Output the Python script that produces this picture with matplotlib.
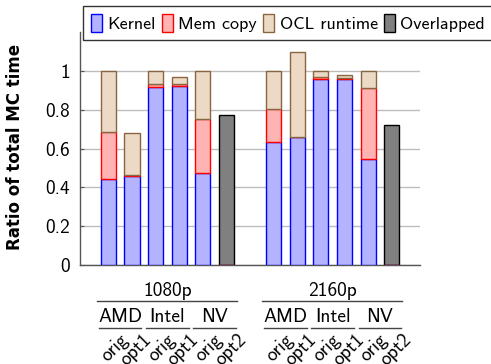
import matplotlib
matplotlib.use("Agg")
import matplotlib.pyplot as plt
import matplotlib.transforms as mtransforms
from matplotlib.patches import Patch
from matplotlib.lines import Line2D

plt.rcParams['font.family'] = ['cmss10', 'DejaVu Sans']
plt.rcParams['font.size'] = 14
plt.rcParams['axes.unicode_minus'] = False

# data
positions = [0, 1, 2, 3, 4, 5, 7, 8, 9, 10, 11, 12]
kernel = [0.443, 0.460, 0.918, 0.924, 0.476, 0.0, 0.632, 0.658, 0.959, 0.959, 0.545, 0.0]
memcopy = [0.244, 0.003, 0.013, 0.007, 0.278, 0.0, 0.170, 0.0, 0.007, 0.003, 0.366, 0.0]
ocl = [0.313, 0.219, 0.069, 0.035, 0.246, 0.0, 0.198, 0.440, 0.034, 0.016, 0.089, 0.0]
overlapped = [0, 0, 0, 0, 0, 0.772, 0, 0, 0, 0, 0, 0.722]

resolutions = ['1080p', '2160p']
vendors = ['AMD', 'Intel', 'NV']
variants = ['orig', 'opt1', 'orig', 'opt1', 'orig', 'opt2']

kernel_fc, kernel_ec = '#b3b3ff', '#0000ff'
mem_fc, mem_ec = '#ffb3b3', '#ff0000'
ocl_fc, ocl_ec = '#ecd9c6', '#8a6640'
ovl_fc, ovl_ec = '#808080', '#000000'

W, H = 491, 364
fig = plt.figure(figsize=(W / 100, H / 100), dpi=100)
ax = fig.add_axes([80 / W, 1 - 265 / H, 340 / W, 233 / H])

bw = 0.64
mem_bottom = [k for k in kernel]
ocl_bottom = [k + m for k, m in zip(kernel, memcopy)]

ax.bar(positions, overlapped, bw, color=ovl_fc, edgecolor=ovl_ec, linewidth=1.0, zorder=3)
ax.bar(positions, kernel, bw, color=kernel_fc, edgecolor=kernel_ec, linewidth=1.0, zorder=3)
ax.bar(positions, memcopy, bw, bottom=mem_bottom, color=mem_fc, edgecolor=mem_ec, linewidth=1.0, zorder=3)
ax.bar(positions, ocl, bw, bottom=ocl_bottom, color=ocl_fc, edgecolor=ocl_ec, linewidth=1.0, zorder=3)

ax.set_xlim(-1.2, 13.2)
ax.set_ylim(0, 1.2)
ax.set_yticks([0, 0.2, 0.4, 0.6, 0.8, 1.0])
ax.set_yticklabels(['0', '0.2', '0.4', '0.6', '0.8', '1'])
ax.set_xticks([])
ax.tick_params(axis='y', length=3, direction='in', color='#555555', pad=7)
ax.yaxis.grid(True, color='#bdbdbd', linewidth=1.0, zorder=0)
ax.set_axisbelow(True)
for s in ['top', 'right']:
    ax.spines[s].set_visible(False)
for s in ['left', 'bottom']:
    ax.spines[s].set_color('#555555')
    ax.spines[s].set_linewidth(1.0)

fig.text(15 / W, 1 - 146.5 / H, 'Ratio of total MC time', rotation=90,
         ha='center', va='center', fontsize=12, fontweight='bold', family='DejaVu Sans')

# hierarchical x labels below the axes
tr = mtransforms.blended_transform_factory(ax.transData, fig.transFigure)

def fy(py):
    return 1 - py / H

for gi, res in enumerate(resolutions):
    base = gi * 7
    ax.text(base + 2.5, fy(291.5), res, transform=tr, ha='center', va='center')
    fig.add_artist(Line2D([base - 0.5, base + 5.45], [fy(301), fy(301)], transform=tr,
                          color='#444444', linewidth=1.0))
    for vi, vend in enumerate(vendors):
        c = base + 2 * vi + 0.5
        ax.text(c, fy(317), vend, transform=tr, ha='center', va='center')
        fig.add_artist(Line2D([c - 0.9, c + 0.9], [fy(327.5), fy(327.5)], transform=tr,
                              color='#444444', linewidth=1.0))
    for k, lab in enumerate(variants):
        ax.text(base + k + 0.45, fy(331), lab, transform=tr, rotation=45,
                ha='right', va='top', rotation_mode='anchor')

handles = [
    Patch(facecolor=kernel_fc, edgecolor=kernel_ec, label='Kernel'),
    Patch(facecolor=mem_fc, edgecolor=mem_ec, label='Mem copy'),
    Patch(facecolor=ocl_fc, edgecolor=ocl_ec, label='OCL runtime'),
    Patch(facecolor=ovl_fc, edgecolor=ovl_ec, label='Overlapped'),
]
leg = fig.legend(handles=handles, loc='upper left', bbox_to_anchor=(83 / W, 1 - 6 / H),
                 ncol=4, frameon=True, fancybox=False, edgecolor='black', fontsize=13,
                 handlelength=0.6, handleheight=1.15, handletextpad=0.3,
                 columnspacing=0.35, borderpad=0.45, borderaxespad=0)
leg.get_frame().set_linewidth(1.0)

fig.savefig('out.png', dpi=100)
